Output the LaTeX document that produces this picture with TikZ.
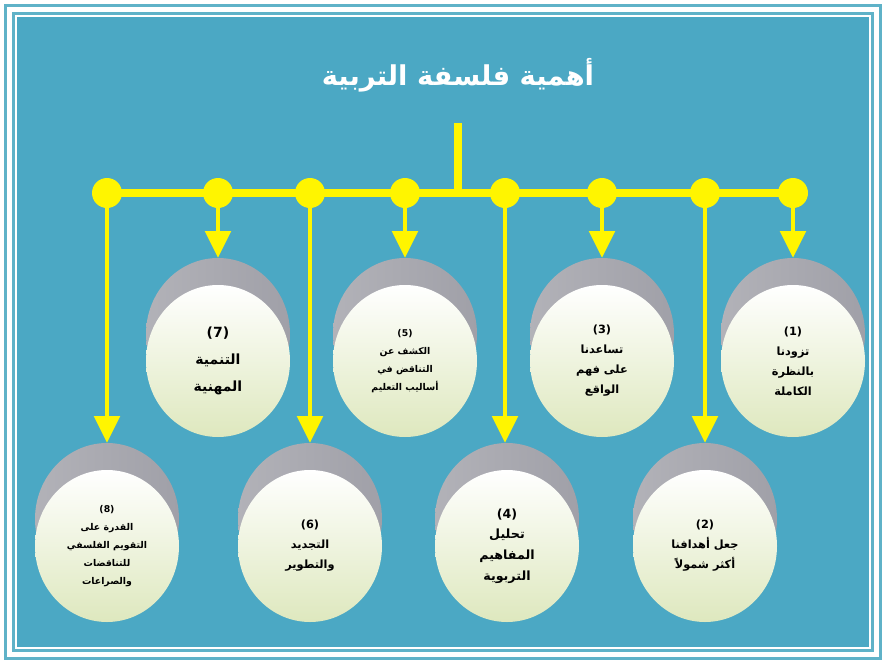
\documentclass[tikz,border=0pt]{standalone}
\usepackage{fontspec}
\usetikzlibrary{arrows.meta,shapes.geometric}
\TeXXeTstate=1
\newfontfamily\arabicfont[Script=Arabic]{DejaVu Sans}
\newcommand{\ar}[1]{\beginR #1\endR}
\definecolor{bg}{RGB}{75,168,196}
\definecolor{frm}{RGB}{95,178,200}
\definecolor{yel}{RGB}{255,245,0}
\definecolor{capA}{RGB}{178,178,184}
\definecolor{capB}{RGB}{218,218,222}
\definecolor{capC}{RGB}{160,160,168}
\definecolor{bodyB}{RGB}{222,232,190}
\tikzset{
  capshape/.style={ellipse, minimum width=108pt, minimum height=114pt, inner sep=0pt,
    left color=capA, middle color=capB, right color=capC},
  bodyshape/.style={ellipse, minimum width=108pt, minimum height=114pt, inner sep=0pt,
    top color=white, bottom color=bodyB, align=center, text=black,
    font=\arabicfont\bfseries\fontsize{8.5}{15}\selectfont},
  dotnode/.style={circle, fill=yel, minimum size=22.5pt, inner sep=0pt},
  barline/.style={draw=yel, line width=5.75pt},
  arr/.style={draw=yel, line width=3.3pt, -{Triangle[length=20pt,width=19pt]}, yel},
}
\newcommand{\cyl}[5]{%
  \node[capshape] (g#1) at (#2,#3+76) {};
  \node[bodyshape,#4] (c#1) at (#2,#3+103) {#5};
}
\begin{document}
\begin{tikzpicture}[x=0.75pt,y=-0.75pt]
\useasboundingbox (0,0) rectangle (886,664);
\fill[white] (0,0) rectangle (886,664);
\draw[frm, line width=2.25pt] (5.5,5.5) rectangle (880.5,658.5);
\draw[frm, line width=2.25pt] (13.5,13.5) rectangle (872.5,650.5);
\fill[bg] (17,17) rectangle (869,647);

% title
\node[text=white, font=\arabicfont\bfseries\fontsize{20.5}{24}\selectfont] (t) at (458,75) {\ar{أهمية فلسفة التربية}};

% bar coordinates
\coordinate (p1) at (793,193);
\coordinate (p2) at (705,193);
\coordinate (p3) at (602,193);
\coordinate (p4) at (505,193);
\coordinate (p5) at (405,193);
\coordinate (p6) at (310,193);
\coordinate (p7) at (218,193);
\coordinate (p8) at (107,193);
\coordinate (s) at (458,123);
\coordinate (j) at (458,193);
\draw[barline] (s) -- (j);
\draw[barline] (p8) -- (p1);
\foreach \i in {1,...,8}{\node[dotnode] (d\i) at (p\i) {};}

% cylinders
\cyl{1}{793}{258}{}{(1)\\ \ar{تزودنا}\\ \ar{بالنظرة}\\ \ar{الكاملة}}
\cyl{3}{602}{258}{}{(3)\\ \ar{تساعدنا}\\ \ar{على فهم}\\ \ar{الواقع}}
\cyl{5}{405}{258}{font=\arabicfont\bfseries\fontsize{7}{13.5}\selectfont}{(5)\\ \ar{الكشف عن}\\ \ar{التناقض في}\\ \ar{أساليب التعليم}}
\cyl{7}{218}{258}{font=\arabicfont\bfseries\fontsize{10.5}{20}\selectfont}{(7)\\ \ar{التنمية}\\ \ar{المهنية}}
\cyl{2}{705}{443}{}{(2)\\ \ar{جعل أهدافنا}\\ \ar{أكثر شمولاً}}
\cyl{4}{507}{443}{font=\arabicfont\bfseries\fontsize{9.5}{15.5}\selectfont}{(4)\\ \ar{تحليل}\\ \ar{المفاهيم}\\ \ar{التربوية}}
\cyl{6}{310}{443}{}{(6)\\ \ar{التجديد}\\ \ar{والتطوير}}
\cyl{8}{107}{443}{font=\arabicfont\bfseries\fontsize{7}{13.5}\selectfont}{(8)\\ \ar{القدرة على}\\ \ar{التقويم الفلسفي}\\ \ar{للتناقضات}\\ \ar{والصراعات}}

% arrows
\draw[arr] (d1) -- (g1.north);
\draw[arr] (d3) -- (g3.north);
\draw[arr] (d5) -- (g5.north);
\draw[arr] (d7) -- (g7.north);
\draw[arr] (d2) -- (g2.north);
\draw[arr] (d4) -- (d4 |- g4.north);
\draw[arr] (d6) -- (g6.north);
\draw[arr] (d8) -- (g8.north);
\end{tikzpicture}
\end{document}
